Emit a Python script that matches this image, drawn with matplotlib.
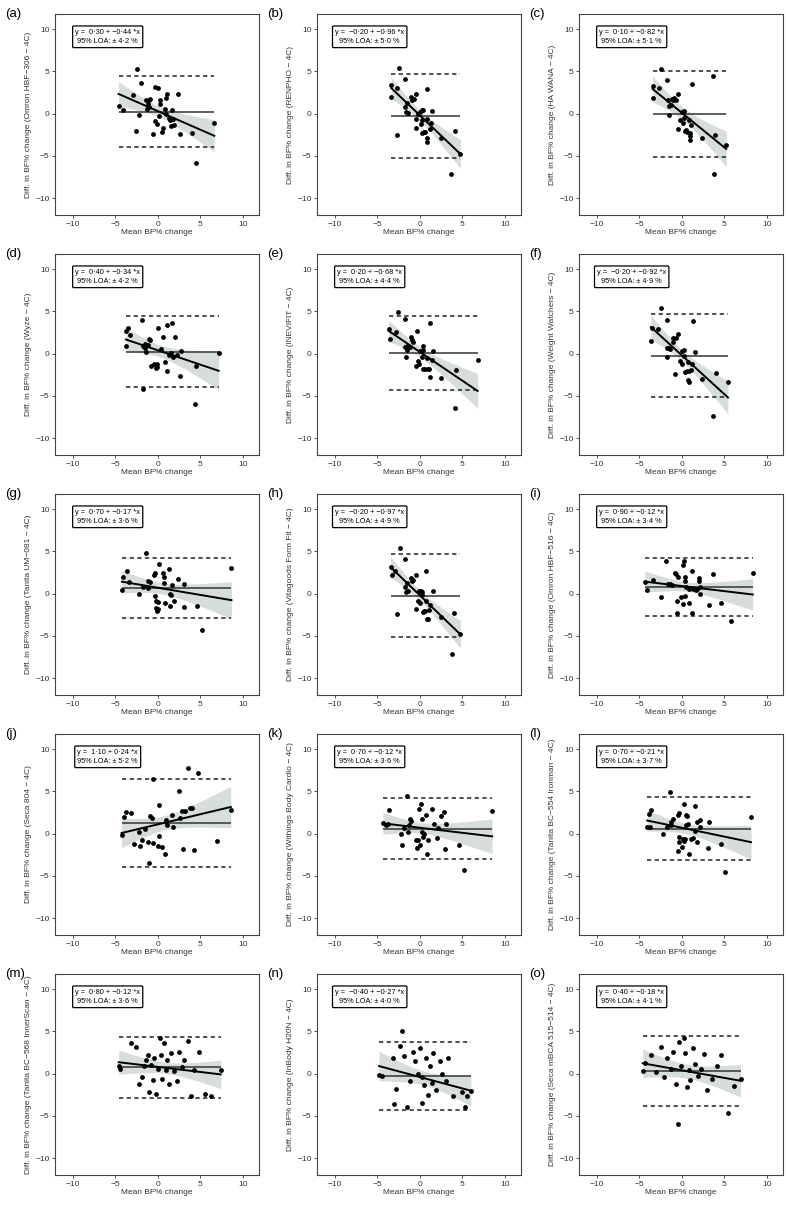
import numpy as np
import matplotlib
matplotlib.use('Agg')
import matplotlib.pyplot as plt

plt.rcParams['font.family'] = ['Liberation Sans', 'DejaVu Sans']

# ********** Data **********

letters = ['a', 'b', 'c', 'd', 'e', 'f', 'g', 'h', 'i', 'j', 'k', 'l', 'm', 'n', 'o']
devices = ['Omron HBF\u2212306', 'RENPHO', 'HA WANA', 'Wyze', 'INEVIFIT', 'Weight Watchers',
           'Tanita UM\u2212081', 'Vitagoods Form Fit', 'Omron HBF\u2212516', 'Seca 804',
           'Withings Body Cardio', 'Tanita BC\u2212554 Ironman', 'Tanita BC\u2212568 InnerScan',
           'InBody H20N', 'Seca mBCA 515\u2212514']
intercepts = [0.30, -0.20, 0.10, 0.40, 0.20, -0.20, 0.70, -0.20, 0.90, 1.10, 0.70, 0.70, 0.80, -0.40, 0.40]
slopes = [-0.44, -0.96, -0.82, -0.34, -0.68, -0.92, -0.17, -0.97, -0.12, 0.24, -0.12, -0.21, -0.12, -0.27, -0.18]
loa = [4.2, 5.0, 5.1, 4.2, 4.4, 4.9, 3.6, 4.9, 3.4, 5.2, 3.6, 3.7, 3.6, 4.0, 4.1]
bias = [0.23, -0.25, 0.0, 0.25, 0.04, -0.22, 0.66, -0.25, 0.80, 1.25, 0.58, 0.60, 0.75, -0.30, 0.30]

mean_a = [-4.62, -4.15, -2.45, -2.96, -1.94, -2.21, -2.57, -1.38, -1.03, -0.87, -1.11, -0.99, -1.26, -0.55, -0.36,
          -0.12, -0.36, -0.04, 0.16, 0.24, 0.24, 0.43, 0.55, 0.83, 0.91, 1.07, 0.95, 1.30, 1.38, 1.58, 1.66, 1.78,
          1.90, 2.33, 2.65, 4.07, 4.47, 6.64]
diff_a = [0.87, 0.40, 5.26, 2.25, 3.68, -0.12, -2.0, 1.58, 1.58, 1.74, 1.19, 0.79, 0.51, -2.45, -0.87,
          -1.19, 3.16, 3.08, -0.24, 1.66, 1.19, -2.13, -1.66, 0.55, 1.90, 2.29, 0.0, -0.55, -0.79, -1.50, 0.40, -0.63,
          -1.30, 2.37, -2.45, -2.29, -5.85, -1.11]

mean_b = [-3.36, -3.36, -2.73, -2.41, -1.78, -2.73, -1.78, -1.58, -1.38, -1.54, -1.07, -0.91, -0.71, -0.47, -0.43,
          -0.40, -0.20, 0.0, 0.08, 0.20, 0.28, 0.40, 0.24, 0.47, 0.59, 0.83, 0.79, 0.87, 0.87, 1.19, 1.30, 1.46,
          2.49, 4.11, 4.78, 3.68]
diff_b = [3.40, 1.98, 3.0, 5.38, 4.07, -2.57, 0.75, 0.16, 0.12, 1.26, 1.98, 1.66, 1.74, 2.33, -0.67,
          -1.74, 0.0, 0.24, -1.19, 0.40, -0.71, 0.47, -2.29, -2.13, -2.17, 2.92, -0.59, -2.85, -3.36, -1.78, -1.11, 0.32,
          -2.85, -2.09, -4.74, -7.11]

mean_c = [-3.44, -3.44, -2.65, -2.41, -1.78, -1.66, -1.54, -1.50, -1.26, -1.11, -1.03, -0.91, -0.71, -0.47, -0.47,
          -0.20, -0.04, 0.08, 0.20, 0.28, 0.36, 0.47, 0.59, 0.79, 0.91, 0.91, 0.95, 1.11, 1.15, 2.37, 3.68, 3.95,
          3.75, 5.22]
diff_c = [3.28, 1.90, 3.08, 5.30, 3.99, 1.58, 0.91, -0.16, 0.99, 1.74, 1.58, 1.90, 1.66, 2.37, -1.86,
          -0.71, 0.16, -1.11, 0.28, -0.47, -2.05, -1.90, -2.13, -0.71, -2.25, -2.69, -3.08, -1.30, 3.56, -2.89, 4.43, -2.53,
          -7.15, -3.68]

mean_d = [-3.75, -3.71, -3.48, -3.28, -1.82, -1.70, -1.70, -1.50, -1.34, -1.46, -1.07, -0.95, -1.11, -0.83, -0.40,
          -0.20, -0.12, -0.04, -0.08, 0.40, 0.63, 0.87, 1.11, 1.07, 1.30, 1.58, 1.66, 1.74, 2.06, 2.29, 2.57, 2.69,
          4.39, 4.47, 7.15]
diff_d = [0.91, 2.69, 3.08, 2.17, 3.95, -4.23, 0.95, 0.71, 0.20, 1.11, 1.74, 1.62, 1.03, -1.46, -1.19,
          -1.74, -1.54, 3.08, -1.26, 0.55, 1.94, -0.95, -2.02, 3.44, -0.12, 0.04, 3.64, -0.36, 1.98, -0.16, -2.61, 0.28,
          -5.95, -1.46, 0.08]

mean_e = [-3.68, -3.52, -2.85, -2.57, -1.78, -1.78, -1.54, -1.62, -1.46, -1.19, -0.99, -0.87, -0.79, -0.28, -0.40,
          -0.24, -0.12, -0.04, 0.20, 0.32, 0.36, 0.40, 0.63, 0.83, 0.91, 1.11, 1.19, 1.23, 1.46, 1.54, 2.45, 4.27,
          4.11, 6.80]
diff_e = [2.92, 1.74, 2.61, 4.98, 4.11, 0.83, 0.40, -0.36, 0.91, 0.75, 1.94, 1.62, 1.42, 2.73, -1.42,
          -0.87, -1.26, 0.32, -0.40, 0.40, 0.95, -1.86, -1.86, -0.55, -1.82, -1.82, -2.73, 3.64, -0.75, 0.28, -2.85, -1.94,
          -6.46, -0.71]

mean_f = [-3.64, -3.52, -2.77, -2.41, -1.78, -1.70, -1.78, -1.50, -1.34, -1.07, -0.99, -0.71, -0.75, -0.47, -0.20,
          -0.04, 0.04, 0.20, 0.28, 0.40, 0.55, 0.67, 0.87, 0.71, 0.87, 1.11, 1.19, 1.30, 1.54, 2.41, 4.07, 3.72,
          5.42]
diff_f = [1.51, 3.08, 2.92, 5.42, 4.03, -0.40, 0.71, 0.63, 0.51, 1.86, 1.42, 1.82, -2.38, 2.30, -0.83,
          -1.26, 0.32, 0.40, -0.24, -2.14, -2.10, -1.03, -2.06, -3.10, -3.37, -1.94, -1.27, 3.85, 0.20, -2.97, -2.30, -7.38,
          -3.41]

mean_g = [-4.23, -4.07, -3.68, -3.44, -2.17, -1.78, -1.34, -1.19, -1.11, -0.95, -0.47, -0.36, -0.32, -0.24, -0.20,
          -0.12, 0.0, 0.16, -0.04, 0.63, 0.67, 0.75, 0.87, 1.34, 1.38, 1.46, 1.66, 1.58, 1.90, 2.33, 3.08, 3.08,
          4.55, 5.22, 8.66]
diff_g = [0.40, 1.94, 2.73, 1.35, -0.04, 0.83, 4.84, 0.63, 1.55, 1.39, 2.18, 2.42, -0.28, -0.83, -1.75,
          -2.02, -0.95, 3.49, -1.83, 2.42, 2.02, 1.31, -1.15, 2.90, -1.43, -0.04, 0.99, -0.20, -0.83, 1.79, 1.15, -1.59,
          -1.43, -4.28, 3.09]

mean_h = [-3.44, -3.24, -2.89, -2.37, -2.65, -1.78, -1.74, -1.62, -1.38, -1.50, -1.03, -0.91, -0.75, -0.51, -0.47,
          -0.20, -0.08, 0.04, 0.12, 0.24, 0.28, 0.36, 0.47, 0.63, 0.71, 0.75, 0.83, 0.99, 1.19, 1.11, 1.58, 2.45,
          4.07, 3.83, 4.78]
diff_h = [3.17, 2.18, 2.70, 5.40, -2.46, 4.09, 0.75, 0.20, 0.28, 1.23, 1.82, 1.55, 1.63, 2.18, -1.79,
          -0.83, 0.36, -1.15, 0.36, -0.20, 0.20, -2.18, -2.02, -2.02, 2.74, -0.87, -3.05, -3.05, -1.35, -1.94, 0.28, -2.78,
          -2.34, -7.10, -4.72]

mean_i = [-4.35, -4.15, -3.36, -2.41, -1.86, -1.58, -1.38, -1.15, -0.79, -0.63, -0.55, -0.51, -0.59, -0.08, 0.08,
          0.16, 0.28, 0.40, 0.40, 0.40, 0.47, 0.79, 0.79, 1.15, 1.23, 1.34, 1.62, 1.78, 1.98, 2.06, 2.10, 2.17,
          3.16, 3.68, 4.66, 5.73, 8.34]
diff_i = [1.39, 0.48, 1.59, -0.44, 3.81, 1.19, 1.11, 1.07, 2.42, 2.34, -0.91, 2.02, -2.34, -0.36, -1.19,
          3.41, 3.81, -0.28, 2.02, 1.47, 0.75, 0.60, -1.07, -2.34, 2.74, 0.60, 0.40, 0.60, 1.86, 1.47, -0.04, 0.83,
          -1.35, 2.38, -1.15, -3.25, 2.50]

mean_j = [-4.27, -4.03, -3.75, -3.12, -2.81, -2.17, -2.09, -1.90, -1.46, -1.11, -0.99, -0.87, -0.67, -0.59, -0.55,
          -0.04, 0.12, 0.16, 0.51, 0.87, 0.91, 0.99, 1.11, 1.66, 1.82, 2.49, 2.57, 2.81, 2.96, 3.20, 3.60, 3.83,
          4.07, 4.27, 4.78, 6.92, 8.58]
diff_j = [-0.16, 1.98, 2.54, 2.46, -1.27, 0.16, -1.43, -0.79, 0.56, -0.99, -3.48, 2.10, 1.90, 6.44, -1.15,
          -1.50, 3.36, -0.24, -1.58, -2.41, 1.62, 1.42, 1.03, 2.25, 0.79, 5.06, 1.86, 2.73, -1.82, 2.69, 7.83, 3.04,
          3.04, -1.98, 7.23, -0.91, 2.77]

mean_k = [-4.35, -4.03, -3.75, -3.68, -2.09, -2.17, -1.90, -1.54, -1.38, -1.30, -1.11, -0.99, -0.51, -0.36, -0.24,
          -0.08, 0.0, 0.16, 0.24, 0.28, 0.36, 0.47, 0.71, 0.87, 0.95, 1.38, 1.62, 2.02, 2.17, 2.49, 2.89, 2.96,
          3.08, 4.55, 5.22, 8.50]
diff_k = [1.31, 1.07, 1.19, 2.81, -1.31, 0.0, 0.63, 4.43, 0.16, 1.03, 1.70, 1.50, -0.75, -1.74, -0.75,
          2.96, -1.34, 3.56, 1.78, 0.24, -0.43, -0.04, 2.21, -2.37, -0.79, 2.96, 1.15, -0.55, 0.71, 2.09, 2.57, -1.78,
          1.15, -1.34, -4.31, 2.73]

mean_l = [-4.07, -3.91, -3.75, -3.64, -2.17, -1.78, -1.38, -1.30, -1.26, -1.07, -0.47, -0.43, -0.32, -0.32, -0.28,
          -0.04, 0.12, 0.20, 0.24, 0.43, 0.32, 0.47, 0.63, 0.67, 0.87, 1.11, 1.30, 1.50, 1.54, 1.82, 1.82, 2.17,
          2.17, 3.16, 3.04, 4.58, 5.10, 8.14]
diff_l = [0.75, 2.33, 0.75, 2.81, -0.08, 0.75, 4.90, 1.42, 1.03, 1.78, -2.09, 2.21, 2.49, -0.43, -1.03,
          -1.58, -0.67, -0.87, 3.56, 1.03, -0.67, 2.21, 2.05, 1.11, -2.41, -0.67, -0.55, 3.32, 0.36, 1.42, -0.99, 1.62,
          0.75, 1.34, -1.70, -1.26, -4.58, 2.02]

mean_m = [-4.6, -4.4, -3.2, -2.6, -2.2, -1.9, -1.6, -1.4, -1.2, -1.0, -0.8, -0.6, -0.4, -0.2, 0.0, 0.2, 0.4,
          0.5, 0.7, 0.9, 1.1, 1.3, 1.6, 1.9, 2.2, 2.5, 2.8, 3.1, 3.5, 3.9, 4.3, 4.8, 5.6, 6.2, 7.4]
diff_m = [0.9, 0.6, 3.6, 3.2, -1.2, -0.4, 0.9, 1.6, 2.2, -2.2, 1.0, -0.8, 1.8, -2.4, 0.6, 4.2, 2.2,
          -0.6, 3.6, 0.4, 1.6, -1.2, 2.4, 0.3, -0.9, 2.6, 0.8, 1.6, 3.9, -2.7, 0.4, 2.6, -2.4, -2.6, 0.4]

mean_n = [-4.8, -4.5, -3.2, -3.0, -2.8, -2.35, -2.1, -1.9, -1.5, -1.2, -0.8, -0.6, -0.2, 0.0, 0.2, 0.3, 0.5,
          0.7, 0.9, 1.2, 1.4, 1.6, 1.9, 2.4, 2.6, 3.1, 3.3, 3.9, 5.0, 5.3, 5.5, 6.0]
diff_n = [-0.2, -0.3, 1.8, -3.6, -1.8, 3.3, 5.0, 2.1, -3.9, -0.9, 2.6, 1.5, 0.0, 3.0, -0.4, -3.5, -1.4,
          1.8, -2.5, 0.9, -1.1, 2.4, -1.9, 1.5, 0.0, -0.9, 1.9, -2.7, -2.2, -4.0, -2.7, -2.1]

mean_o = [-4.6, -4.3, -3.6, -3.0, -2.5, -2.1, -1.7, -1.3, -1.0, -0.7, -0.5, -0.3, -0.1, 0.2, 0.4, 0.6, 0.8,
          1.0, 1.3, 1.6, 1.9, 2.2, 2.6, 3.0, 3.5, 4.1, 4.6, 5.4, 6.1, 6.9]
diff_o = [0.3, 1.3, 2.2, 0.2, 3.1, -0.4, 1.8, 0.6, 2.6, -1.2, -6.0, 3.8, 0.9, 4.2, 2.4, -1.6, 0.4,
          -0.8, 3.0, 1.1, -0.3, 0.6, 2.3, -1.9, -0.6, 0.9, 2.2, -4.7, -1.5, -0.6]

means = [mean_a, mean_b, mean_c, mean_d, mean_e, mean_f, mean_g, mean_h,
         mean_i, mean_j, mean_k, mean_l, mean_m, mean_n, mean_o]
diffs = [diff_a, diff_b, diff_c, diff_d, diff_e, diff_f, diff_g, diff_h,
         diff_i, diff_j, diff_k, diff_l, diff_m, diff_n, diff_o]


def fmt(v):
    # 0.30 -> 0·30, negative with a real minus sign
    return f"{v:.2f}".replace('.', '\u00b7').replace('-', '\u2212')


# ********** Plotting **********

fig = plt.figure(figsize=(7.86, 12.08), dpi=100)
W, H = 786.0, 1208.0
left_px = [55, 317, 579]
top_px = [14, 254, 494, 734, 974]
aw, ah = 204, 201

for k in range(15):
    r, c = divmod(k, 3)
    ax = fig.add_axes([left_px[c] / W, 1 - (top_px[r] + ah) / H, aw / W, ah / H])

    x = np.array(means[k])
    y = np.array(diffs[k])
    b0, b1 = intercepts[k], slopes[k]
    xs = np.linspace(x.min(), x.max(), 100)
    fit = b0 + b1 * xs

    # 95% confidence band of the regression line
    n = len(x)
    resid = y - (b0 + b1 * x)
    s = np.sqrt(np.sum(resid ** 2) / (n - 2))
    sxx = np.sum((x - x.mean()) ** 2)
    half = 2.03 * s * np.sqrt(1 / n + (xs - x.mean()) ** 2 / sxx)
    ax.fill_between(xs, fit - half, fit + half, color='#d6dedc', lw=0, zorder=1)

    # bias and limits of agreement
    ax.hlines(bias[k], x.min(), x.max(), color='#333333', lw=1.1, zorder=2)
    ax.hlines([bias[k] + loa[k], bias[k] - loa[k]], x.min(), x.max(), color='#222222',
              lw=1.1, linestyles=(0, (2.8, 2.2)), zorder=2)

    ax.plot(xs, fit, color='black', lw=1.4, zorder=3)
    ax.scatter(x, y, s=12, color='black', lw=0, zorder=4)

    ax.text(-5.9, 9.1, f"y =  {fmt(b0)} + {fmt(b1)} *x\n95% LOA: \u00b1 {loa[k]:.1f} %".replace('.', '\u00b7'),
            ha='center', va='center', fontsize=5.3, linespacing=1.5,
            bbox=dict(boxstyle='round,pad=0.35,rounding_size=0.15', fc='white', ec='black', lw=0.9))

    ax.set_xlim(-12.1, 11.9)
    ax.set_ylim(-12.0, 11.8)
    ax.set_xticks([-10, -5, 0, 5, 10])
    ax.set_yticks([-10, -5, 0, 5, 10])
    ax.set_xticklabels(['\u221210', '\u22125', '0', '5', '10'])
    ax.set_yticklabels(['\u221210', '\u22125', '0', '5', '10'])
    ax.tick_params(labelsize=6, length=2.5, width=0.6, pad=1.5, colors='#333333')
    for sp in ax.spines.values():
        sp.set_linewidth(0.8)
        sp.set_color('#444444')
    ax.set_xlabel('Mean BF% change', fontsize=6, labelpad=1, color='#333333')
    ax.set_ylabel(f'Diff. in BF% change ({devices[k]} \u2212 4C)', fontsize=6, labelpad=2, color='#333333')
    ax.text(-0.245, 1.0, f'({letters[k]})', transform=ax.transAxes, ha='left', va='center', fontsize=9.5)

fig.savefig('out.png', dpi=100)
